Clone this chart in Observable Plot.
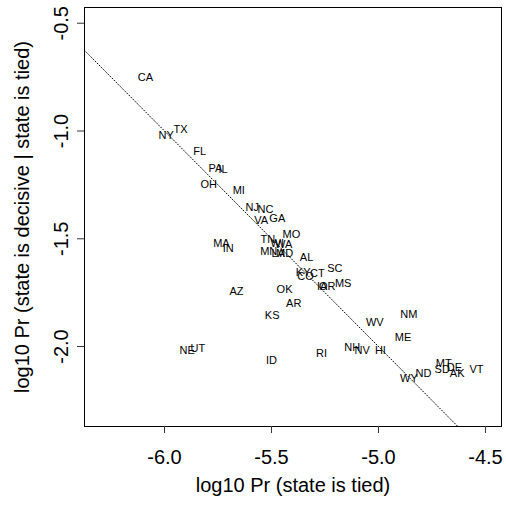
<!DOCTYPE html>
<html><head><meta charset="utf-8">
<script src="https://cdn.jsdelivr.net/npm/d3@7"></script>
<script src="https://cdn.jsdelivr.net/npm/@observablehq/plot@0.6"></script>
<style>
body{margin:0;background:#fff}
svg{font-family:"Liberation Sans", Arial, sans-serif}
</style>
</head><body><div id="chart"></div>
<script>
const states = ["CA","NY","TX","FL","PA","IL","OH","MI","NJ","NC","VA","GA","MO","TN","WI","WA","MN","LA","MD","MA","IN","AL","KY","CT","CO","SC","IA","OR","MS","AZ","OK","AR","KS","NE","UT","ID","RI","NH","NV","HI","WV","NM","ME","MT","SD","DE","AK","VT","ND","WY"];
const logPrTied = [-6.089,-5.992,-5.925,-5.836,-5.762,-5.726,-5.793,-5.653,-5.590,-5.528,-5.548,-5.473,-5.407,-5.517,-5.473,-5.443,-5.513,-5.469,-5.439,-5.734,-5.702,-5.336,-5.352,-5.286,-5.341,-5.204,-5.263,-5.240,-5.165,-5.664,-5.439,-5.396,-5.497,-5.894,-5.844,-5.500,-5.266,-5.123,-5.076,-4.991,-5.017,-4.858,-4.885,-4.695,-4.702,-4.645,-4.632,-4.542,-4.790,-4.858];
const logPrDecisive = [-0.753,-1.021,-0.993,-1.094,-1.176,-1.179,-1.250,-1.276,-1.354,-1.365,-1.416,-1.405,-1.482,-1.504,-1.524,-1.528,-1.559,-1.570,-1.567,-1.524,-1.547,-1.589,-1.657,-1.660,-1.675,-1.637,-1.722,-1.722,-1.707,-1.744,-1.733,-1.802,-1.856,-2.019,-2.011,-2.065,-2.031,-2.006,-2.019,-2.019,-1.887,-1.849,-1.960,-2.078,-2.107,-2.099,-2.127,-2.107,-2.127,-2.150];
const xTicks = [-6.0,-5.5,-5.0,-4.5];
const yTicks = [-2.0,-1.5,-1.0,-0.5];
const refSlope = -1;
const refIntercept = -7;
const xTitle = "log10 Pr (state is tied)";
const yTitle = "log10 Pr (state is decisive | state is tied)";

const data = states.map((s,i)=>({state:s, x:logPrTied[i], y:logPrDecisive[i]}));
const xDomain = [-6.374, -4.425];
const yDomain = [-2.371, -0.427];
const refLine = xDomain.map(x => ({x, y: refSlope*x + refIntercept}));
const fmt = d => d.toFixed(1);

const chart = Plot.plot({
  width: 506, height: 508,
  marginLeft: 84, marginRight: 5, marginTop: 7, marginBottom: 82,
  x: {domain: xDomain},
  y: {domain: yDomain},
  style: {fontFamily: '"Liberation Sans", Arial, sans-serif', background: "white", color: "black"},
  marks: [
    Plot.frame({stroke: "black", strokeWidth: 1}),
    Plot.line(refLine, {x: "x", y: "y", stroke: "black", strokeWidth: 1, strokeDasharray: "1,2", clip: true}),
    Plot.text(data, {x: "x", y: "y", text: "state", fontSize: 11, fill: "black"}),
    Plot.axisX({ticks: xTicks, tickFormat: fmt, tickSize: 7, tickPadding: 16, fontSize: 20, label: null, stroke: "#333"}),
    Plot.axisY({ticks: yTicks, tickFormat: fmt, tickSize: 7, tickPadding: 10, tickRotate: -90, fontSize: 20, label: null, stroke: "#333"}),
    Plot.text([xTitle], {text: d => d, frameAnchor: "bottom", dy: 65, fontSize: 20, fill: "black"}),
    Plot.text([yTitle], {text: d => d, frameAnchor: "left", textAnchor: "middle", dx: -62, rotate: -90, fontSize: 20, fill: "black"})
  ]
});
document.getElementById("chart").appendChild(chart);
</script>
</body></html>
